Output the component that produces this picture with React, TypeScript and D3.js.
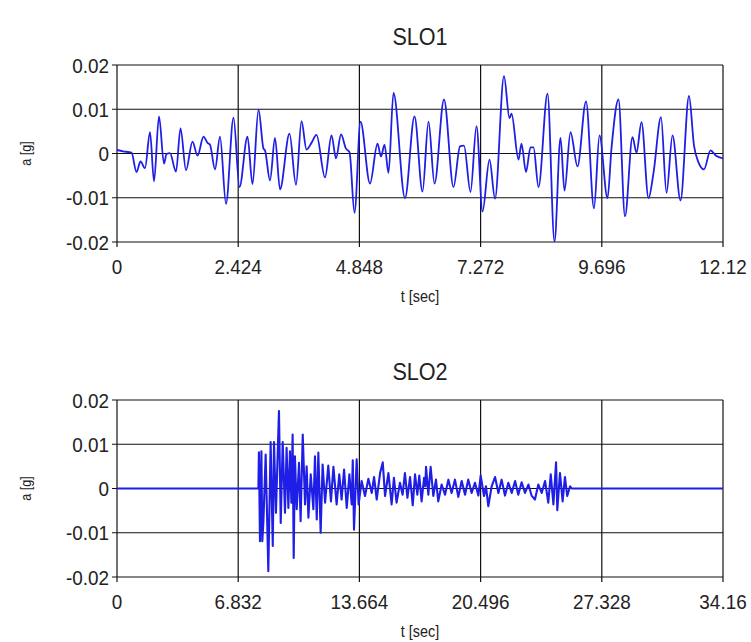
import React from "react";
import * as d3 from "d3";

// SLO1 record: time [sec] and acceleration [g] (local extrema)
const slo1T = [0, 0.12, 0.29, 0.39, 0.47, 0.56, 0.66, 0.74, 0.84, 0.94, 0.99, 1.06, 1.18, 1.27, 1.38, 1.51, 1.61, 1.73, 1.81, 1.86, 1.96, 2.06, 2.18, 2.33, 2.45, 2.61, 2.71, 2.83, 2.93, 2.96, 3.06, 3.16, 3.26, 3.45, 3.58, 3.69, 3.79, 3.89, 3.99, 4.16, 4.29, 4.38, 4.48, 4.58, 4.65, 4.75, 4.87, 5.06, 5.21, 5.28, 5.35, 5.43, 5.53, 5.76, 5.95, 6.11, 6.23, 6.35, 6.54, 6.73, 6.86, 6.94, 7.07, 7.19, 7.31, 7.45, 7.56, 7.74, 7.85, 7.89, 8.03, 8.09, 8.18, 8.27, 8.33, 8.43, 8.61, 8.75, 8.87, 8.95, 9.07, 9.21, 9.38, 9.54, 9.65, 9.81, 9.89, 10.03, 10.16, 10.31, 10.39, 10.49, 10.63, 10.73, 10.88, 10.99, 11.11, 11.27, 11.44, 11.54, 11.63, 11.74, 11.87, 11.98, 12.12];
const slo1A = [0.0008, 0.0005, 0.0002, -0.0042, -0.0018, -0.0033, 0.0048, -0.0063, 0.0084, -0.0023, -0.0001, 0.0001, -0.0041, 0.0057, -0.0038, 0.0027, -0.0005, 0.0038, 0.0024, 0.002, -0.0036, 0.0038, -0.0114, 0.0081, -0.0076, 0.0038, -0.0069, 0.0099, 0.0011, 0.0007, -0.0061, 0.0035, -0.0081, 0.0045, -0.0071, 0.0073, 0.0009, 0.0024, 0.0042, -0.0054, 0.0041, -0.0011, 0.0043, 0.0011, 0.0003, -0.0134, 0.0072, -0.0068, 0.0022, -0.0007, 0.002, -0.0044, 0.0137, -0.0101, 0.0084, -0.0086, 0.0072, -0.0068, 0.0122, -0.0076, 0.0016, 0.0018, -0.0087, 0.0062, -0.0131, -0.0014, -0.0102, 0.0175, 0.008, 0.009, -0.0014, 0.0022, -0.0042, 0.0014, 0.0014, -0.0076, 0.0135, -0.0199, 0.0035, -0.0084, 0.0048, -0.0029, 0.0118, -0.0124, 0.0041, -0.0101, 0.0012, 0.0122, -0.0142, 0.0037, 0.0002, 0.0071, -0.0101, -0.0044, 0.0082, -0.0089, 0.0041, -0.0106, 0.013, 0.0018, -0.002, -0.0036, 0.0007, -0.0005, -0.0011];

// SLO2 record
const slo2T = [0, 7.97, 8.0, 8.06, 8.14, 8.19, 8.25, 8.38, 8.53, 8.66, 8.78, 8.85, 8.96, 9.13, 9.23, 9.34, 9.47, 9.56, 9.66, 9.75, 9.83, 9.9, 9.96, 10.03, 10.13, 10.26, 10.35, 10.47, 10.6, 10.69, 10.79, 10.92, 11.07, 11.16, 11.26, 11.35, 11.48, 11.59, 11.73, 11.91, 12.06, 12.2, 12.38, 12.53, 12.66, 12.8, 12.95, 13.1, 13.23, 13.29, 13.36, 13.51, 13.62, 13.79, 13.98, 14.17, 14.36, 14.49, 14.64, 14.83, 14.98, 15.11, 15.3, 15.48, 15.61, 15.76, 15.95, 16.1, 16.23, 16.37, 16.52, 16.67, 16.8, 16.93, 17.04, 17.17, 17.31, 17.38, 17.42, 17.55, 17.68, 17.83, 17.98, 18.11, 18.3, 18.49, 18.68, 18.86, 19.05, 19.24, 19.43, 19.62, 19.8, 19.99, 20.18, 20.37, 20.5, 20.69, 20.8, 20.93, 21.12, 21.31, 21.5, 21.68, 21.87, 22.06, 22.25, 22.44, 22.62, 22.81, 23.0, 23.19, 23.37, 23.56, 23.75, 23.94, 24.13, 24.31, 24.45, 24.6, 24.75, 24.82, 24.97, 25.12, 25.25, 25.38, 25.54, 25.63, 34.16];
const slo2A = [0, 0, 0.0082, -0.0119, 0.0084, -0.0119, -0.0078, 0.0077, -0.0187, 0.0105, -0.013, 0.0105, -0.0055, 0.0175, -0.0078, 0.0105, -0.0055, 0.0092, -0.0044, 0.0084, -0.0032, 0.0122, -0.0157, 0.0073, -0.0047, 0.0058, -0.0074, 0.0122, -0.0036, 0.005, -0.0066, 0.0032, -0.0047, 0.0073, -0.007, 0.0081, -0.01, 0.0054, -0.0032, 0.0052, -0.0029, 0.0049, -0.0036, 0.0032, -0.0025, 0.0043, -0.0044, 0.0032, -0.0036, 0.0064, -0.0093, 0.0066, -0.0036, 0.0017, -0.0017, 0.0022, -0.001, 0.0026, -0.0025, 0.0035, 0.0059, -0.0017, 0.0035, -0.0036, 0.0024, -0.0032, 0.0013, -0.0014, 0.0035, -0.0021, 0.0026, -0.0038, 0.0032, -0.0014, 0.0029, -0.0029, 0.0024, 0.0005, 0.0049, -0.0014, 0.0049, -0.0017, 0.002, -0.0029, 0.0009, -0.0014, 0.002, -0.001, 0.002, -0.0019, 0.0017, -0.0014, 0.002, -0.001, 0.0013, -0.0016, 0.0029, -0.0017, 0.0005, -0.004, 0.0005, 0.0026, -0.001, 0.002, -0.0016, 0.0013, -0.001, 0.0017, -0.0014, 0.0014, -0.001, 0.0009, -0.0016, -0.0025, 0.0009, -0.001, 0.0017, -0.0032, 0.0032, -0.0036, 0.0059, -0.0049, 0.0035, -0.0029, 0.0026, -0.0017, 0.0005, 0, 0];

const yTicks = [-0.02, -0.01, 0, 0.01, 0.02];
const yTickLabels = ["-0.02", "-0.01", "0", "0.01", "0.02"];
const slo1XTicks = [0, 2.424, 4.848, 7.272, 9.696, 12.12];
const slo1XTickLabels = ["0", "2.424", "4.848", "7.272", "9.696", "12.12"];
const slo2XTicks = [0, 6.832, 13.664, 20.496, 27.328, 34.16];
const slo2XTickLabels = ["0", "6.832", "13.664", "20.496", "27.328", "34.16"];

const FONT = "'Liberation Sans', Arial, sans-serif";
const LINE = "#1e1ee6";
const SX = 0.9; // condensed look of the original text

function CText({ x, y, size, anchor, children, dy }: { x: number; y: number; size: number; anchor: string; children: React.ReactNode; dy?: string }) {
  return (
    <text
      transform={`translate(${x},${y}) scale(${SX},1)`}
      dy={dy}
      textAnchor={anchor}
      fontFamily={FONT}
      fontSize={size}
      fill="#222"
    >
      {children}
    </text>
  );
}

type PanelProps = {
  title: string;
  t: number[];
  a: number[];
  xTicks: number[];
  xLabels: string[];
  top: number;
  smooth: boolean;
  width: number;
};

function Panel({ title, t, a, xTicks, xLabels, top, smooth, width }: PanelProps) {
  const left = 117;
  const right = 723;
  const h = 177;
  const x = d3.scaleLinear().domain([xTicks[0], xTicks[xTicks.length - 1]]).range([left, right]);
  const y = d3.scaleLinear().domain([-0.02, 0.02]).range([top + h, top]);
  const pts = t.map((v, i) => [v, a[i]] as [number, number]);
  const line = d3
    .line<[number, number]>()
    .x((d) => x(d[0]))
    .y((d) => y(d[1]))
    .curve(smooth ? d3.curveMonotoneX : d3.curveLinear);
  const midX = (left + right) / 2;
  return (
    <g>
      <CText x={midX} y={top - 20} size={24} anchor="middle">{title}</CText>
      <rect x={left} y={top} width={right - left} height={h} fill="#fff" />
      {xTicks.map((v, i) => (
        <line key={"gx" + i} x1={x(v)} x2={x(v)} y1={top} y2={top + h + 5} stroke="#111" strokeWidth={1.2} />
      ))}
      {yTicks.map((v, i) => (
        <line key={"gy" + i} x1={left - 5} x2={right} y1={y(v)} y2={y(v)} stroke="#111" strokeWidth={1.2} />
      ))}
      <clipPath id={"clip" + title}>
        <rect x={left} y={top - 2} width={right - left} height={h + 4} />
      </clipPath>
      <path d={line(pts) || ""} fill="none" stroke={LINE} strokeWidth={width} strokeLinejoin="round" clipPath={`url(#clip${title})`} />
      {yTicks.map((v, i) => (
        <CText key={"ly" + i} x={left - 8} y={y(v)} dy="0.36em" size={21} anchor="end">{yTickLabels[i]}</CText>
      ))}
      {xTicks.map((v, i) => (
        <CText key={"lx" + i} x={x(v)} y={top + h + 32} size={21} anchor="middle">{xLabels[i]}</CText>
      ))}
      <CText x={midX} y={top + h + 60} size={16} anchor="middle">t [sec]</CText>
      <text
        transform={`translate(${31},${top + h / 2}) rotate(-90) scale(${SX},1)`}
        textAnchor="middle"
        fontFamily={FONT}
        fontSize={14}
        fill="#222"
      >
        a [g]
      </text>
    </g>
  );
}

export default function App() {
  return (
    <svg
      width={751}
      height={642}
      style={{ position: "absolute", left: 0, top: 0, background: "#fff" }}
    >
      <rect width={751} height={642} fill="#fff" />
      <Panel title="SLO1" t={slo1T} a={slo1A} xTicks={slo1XTicks} xLabels={slo1XTickLabels} top={65} smooth={true} width={1.8} />
      <Panel title="SLO2" t={slo2T} a={slo2A} xTicks={slo2XTicks} xLabels={slo2XTickLabels} top={400} smooth={false} width={2.1} />
    </svg>
  );
}
